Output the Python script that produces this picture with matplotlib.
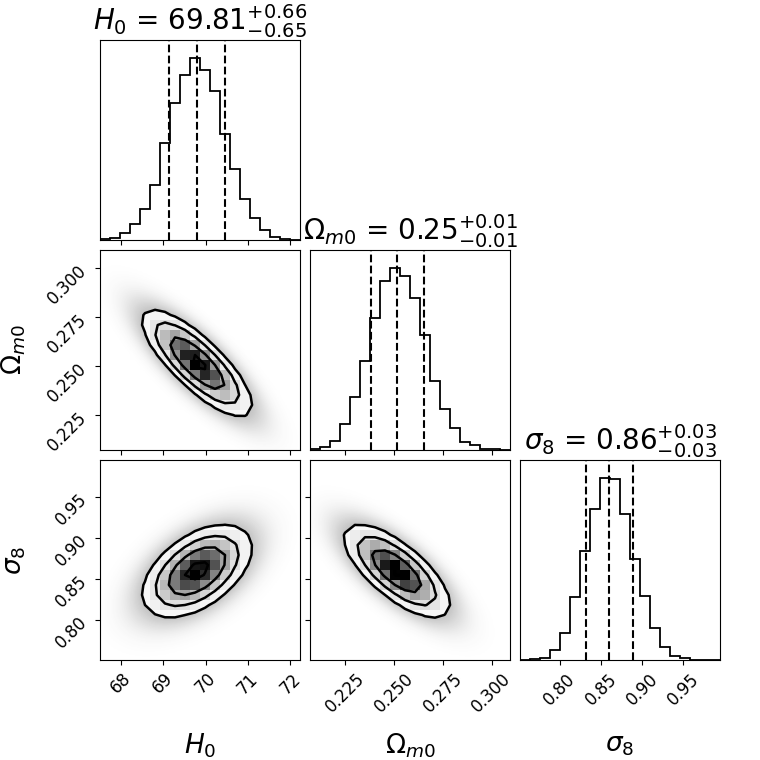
import numpy as np
import matplotlib
matplotlib.use("Agg")
import matplotlib.pyplot as plt
from matplotlib.colors import LinearSegmentedColormap

# Parameter labels and plotting ranges
labels = [r'$H_0$', r'$\Omega_{m0}$', r'$\sigma_8$']
ranges = [(67.51, 72.23), (0.2073, 0.3094), (0.7515, 0.9952)]

# 1D histogram counts (20 bins each)
hist_H0 = [3, 6, 20, 49, 92, 166, 291, 412, 496, 545, 509, 447, 317, 213, 123, 66, 30, 10, 3, 1]
hist_Om = [3, 8, 28, 78, 157, 265, 395, 505, 543, 520, 455, 343, 205, 123, 66, 23, 15, 3, 3, 0]
hist_s8 = [1, 3, 7, 31, 81, 189, 327, 451, 543, 541, 435, 301, 191, 96, 40, 13, 5, 0, 0, 0]
hists = [hist_H0, hist_Om, hist_s8]

# 16/50/84 percentiles (dashed lines)
q_H0 = [69.14, 69.80, 70.46]
q_Om = [0.2383, 0.2516, 0.2656]
q_s8 = [0.8322, 0.8599, 0.8893]
quants = [q_H0, q_Om, q_s8]

# title numbers
title_med = ['69.81', '0.25', '0.86']
title_lo = ['0.65', '0.01', '0.03']
title_hi = ['0.66', '0.01', '0.03']

# summary of the 2D clouds: means, widths and pair correlations
means = [69.80, 0.2516, 0.8600]
sigmas = [0.655, 0.0137, 0.0286]
rho = {(1, 0): -0.80, (2, 0): 0.50, (2, 1): -0.72}

# ticks
ticks = [[68, 69, 70, 71, 72],
         [0.225, 0.250, 0.275, 0.300],
         [0.80, 0.85, 0.90, 0.95]]
tick_labels = [['68', '69', '70', '71', '72'],
               ['0.225', '0.250', '0.275', '0.300'],
               ['0.80', '0.85', '0.90', '0.95']]

nb = 20
fig = plt.figure(figsize=(7.6, 7.6), dpi=100)

W = 760.0
x0s = [100, 310, 520]
y0s = [40, 250, 460]
size = 200

density_cmap = LinearSegmentedColormap.from_list("density_cmap", [(0, 0, 0, 1), (1, 1, 1, 0)])
cloud_cmap = LinearSegmentedColormap.from_list("cloud_cmap", [(0.25, 0.25, 0.25, 0), (0.25, 0.25, 0.25, 1)])

def gauss2(x, y, i, j):
    # i -> y parameter, j -> x parameter
    r = rho[(i, j)]
    dx = (x - means[j]) / sigmas[j]
    dy = (y - means[i]) / sigmas[i]
    z = (dx**2 - 2*r*dx*dy + dy**2) / (1 - r**2)
    return np.exp(-0.5*z)

for i in range(3):
    for j in range(3):
        if j > i:
            continue
        ax = fig.add_axes([x0s[j]/W, 1 - (y0s[i]+size)/W, size/W, size/W])
        xr = ranges[j]
        edges = np.linspace(xr[0], xr[1], nb + 1)
        if i == j:
            h = np.array(hists[i], dtype=float)
            ax.stairs(h, edges, color='k', lw=1.3)
            for q in quants[i]:
                ax.axvline(q, ls='--', color='k', lw=1.5)
            ax.set_ylim(0, 1.1*h.max())
            ax.set_yticks([])
            ax.set_title(labels[i] + r' = $%s_{-%s}^{+%s}$' % (title_med[i], title_lo[i], title_hi[i]),
                         fontsize=20)
        else:
            yr = ranges[i]
            yedges = np.linspace(yr[0], yr[1], nb + 1)
            xc = 0.5*(edges[1:] + edges[:-1])
            yc = 0.5*(yedges[1:] + yedges[:-1])
            XC, YC = np.meshgrid(xc, yc)
            H = gauss2(XC, YC, i, j)
            # smooth cloud standing in for the sample points
            xf = np.linspace(xr[0], xr[1], 300)
            yf = np.linspace(yr[0], yr[1], 300)
            XF, YF = np.meshgrid(xf, yf)
            P = gauss2(XF, YF, i, j)
            dark = 1 - 0.9**(60*P)
            ax.imshow(dark*0.55, origin='lower', extent=[xr[0], xr[1], yr[0], yr[1]],
                      aspect='auto', cmap=cloud_cmap, vmin=0, vmax=1, zorder=0,
                      interpolation='bilinear')
            # contour levels as in corner
            V = 1.0 - np.exp(-0.5*np.arange(0.5, 2.1, 0.5)**2)
            Hflat = np.sort(H.flatten())[::-1]
            sm = np.cumsum(Hflat)
            sm /= sm[-1]
            lev = np.array([Hflat[sm <= v0][-1] for v0 in V])
            lev.sort()
            ax.contourf(XC, YC, H, [lev.min(), H.max()*1.01], colors=['white'], zorder=1,
                        antialiased=False)
            ax.pcolormesh(edges, yedges, H.max() - H, cmap=density_cmap, zorder=2)
            ax.contour(XC, YC, H, lev, colors='k', linewidths=1.8, zorder=3)
            ax.set_ylim(yr)
            ax.set_yticks(ticks[i])
            if j == 0:
                ax.set_yticklabels(tick_labels[i], rotation=45, fontsize=12)
                ax.set_ylabel(labels[i], fontsize=19)
                ax.yaxis.set_label_coords(-0.36, 0.5)
            else:
                ax.set_yticklabels([])
        ax.set_xlim(xr)
        ax.set_xticks(ticks[j])
        if i == 2:
            ax.set_xticklabels(tick_labels[j], rotation=45, fontsize=12)
            ax.set_xlabel(labels[j], fontsize=19)
            ax.xaxis.set_label_coords(0.5, -0.36)
        else:
            ax.set_xticklabels([])

fig.savefig('out.png', dpi=100)
